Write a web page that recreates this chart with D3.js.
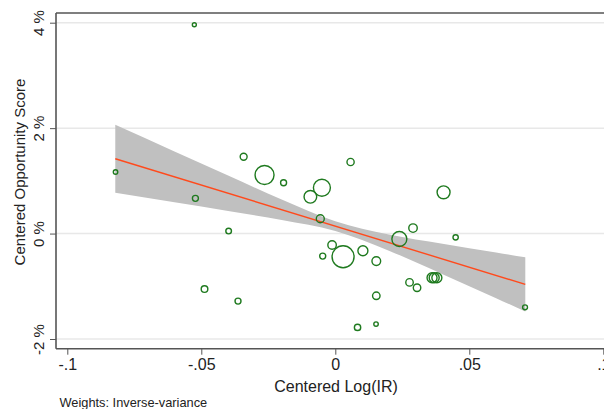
<!DOCTYPE html>
<html>
<head>
<meta charset="utf-8">
<script src="https://cdn.jsdelivr.net/npm/d3@7"></script>
<style>
  html, body { margin: 0; padding: 0; background: #fff; }
  svg { display: block; font-family: "Liberation Sans", Arial, sans-serif; }
</style>
</head>
<body>
<svg id="chart" width="604" height="409"></svg>
<script>
// ---- data ----
const pointX = [-0.0526, -0.0820, -0.0342, -0.0264, -0.0193, -0.0050, -0.0093, -0.0522, -0.0398, -0.0488,
                -0.0363, -0.0056, -0.0012, -0.0047, 0.0029, 0.0103, 0.0153, 0.0057, 0.0404, 0.0290,
                0.0449, 0.0239, 0.0361, 0.0369, 0.0379, 0.0277, 0.0305, 0.0153, 0.0708, 0.0083, 0.0152];
const pointY = [3.962, 1.167, 1.457, 1.110, 0.964, 0.869, 0.698, 0.668, 0.047, -1.053,
                -1.281, 0.281, -0.218, -0.427, -0.440, -0.326, -0.522, 1.357, 0.782, 0.104,
                -0.072, -0.104, -0.839, -0.839, -0.839, -0.926, -1.028, -1.180, -1.400, -1.780, -1.717];
const pointW = [4, 5, 12, 90, 9, 72, 40, 9, 8, 11,
                9, 16, 18, 9, 121, 25, 19, 13, 42, 18,
                7, 56, 25, 25, 25, 14, 14, 14, 6, 10, 5];
const fitX = [-0.0821, 0.0709];
const fitY = [1.42, -0.964];
const bandX  = [-0.0821, -0.06, -0.04, -0.02, 0.0, 0.02, 0.04, 0.06, 0.0709];
const bandHi = [2.065, 1.558, 1.100, 0.648, 0.234, -0.018, -0.194, -0.361, -0.451];
const bandLo = [0.775, 0.594, 0.428, 0.256, 0.048, -0.324, -0.770, -1.227, -1.477];
const xTicks = [-0.1, -0.05, 0, 0.05, 0.1];
const xTickLabels = ["-.1", "-.05", "0", ".05", ".1"];
const yTicks = [-2, 0, 2, 4];
const yTickLabels = ["-2 %", "0 %", "2 %", "4 %"];

// ---- layout ----
const svg = d3.select("#chart");
const pLeft = 56, pTop = 13, pBottom = 348.7, pRight = 620;
const x = d3.scaleLinear().domain([-0.1, 0.1]).range([67.3, 603.3]);
const y = d3.scaleLinear().domain([-2, 4]).range([339, 22.7]);
const r = d3.scaleSqrt().domain([0, 121]).range([0, 11]);

// gridlines
svg.append("g").selectAll("line").data(yTicks).join("line")
  .attr("x1", pLeft).attr("x2", pRight)
  .attr("y1", d => y(d)).attr("y2", d => y(d))
  .attr("stroke", "#e8e8e8").attr("stroke-width", 1.5);

// CI band
const band = bandX.map((d, i) => ({x: d, lo: bandLo[i], hi: bandHi[i]}));
svg.append("path").datum(band)
  .attr("d", d3.area().x(d => x(d.x)).y0(d => y(d.lo)).y1(d => y(d.hi)).curve(d3.curveMonotoneX))
  .attr("fill", "#c0c0c0");

// fit line
const fit = fitX.map((d, i) => ({x: d, y: fitY[i]}));
svg.append("path").datum(fit)
  .attr("d", d3.line().x(d => x(d.x)).y(d => y(d.y)))
  .attr("fill", "none").attr("stroke", "#ff4a1c").attr("stroke-width", 1.4);

// points
const pts = pointX.map((d, i) => ({x: d, y: pointY[i], w: pointW[i]}));
svg.append("g").selectAll("circle").data(pts).join("circle")
  .attr("cx", d => x(d.x)).attr("cy", d => y(d.y)).attr("r", d => r(d.w))
  .attr("fill", "none").attr("stroke", "#1f7a1f").attr("stroke-width", 1.4);

// frame: top border, left axis, bottom axis
svg.append("line").attr("x1", pLeft).attr("x2", pRight).attr("y1", pTop).attr("y2", pTop)
  .attr("stroke", "#555").attr("stroke-width", 1.6);

const xAxis = d3.axisBottom(x).tickValues(xTicks).tickFormat((d, i) => xTickLabels[i])
  .tickSize(6).tickSizeOuter(0);
const gx = svg.append("g").attr("transform", `translate(0,${pBottom})`).call(xAxis);
gx.select(".domain").remove();
gx.append("line").attr("x1", pLeft).attr("x2", pRight).attr("stroke", "#555").attr("stroke-width", 1.6);
gx.selectAll(".tick line").attr("stroke", "#555");
gx.selectAll(".tick text").attr("font-size", 16).attr("fill", "#222")
  .attr("font-family", "Liberation Sans, Arial, sans-serif").attr("dy", null).attr("y", 21);

const yAxis = d3.axisLeft(y).tickValues(yTicks).tickFormat((d, i) => yTickLabels[i])
  .tickSize(6).tickSizeOuter(0);
const gy = svg.append("g").attr("transform", `translate(${pLeft},0)`).call(yAxis);
gy.select(".domain").remove();
gy.append("line").attr("y1", pTop).attr("y2", pBottom).attr("stroke", "#555").attr("stroke-width", 1.6);
gy.selectAll(".tick line").attr("stroke", "#555");
gy.selectAll(".tick text")
  .attr("font-size", 15).attr("fill", "#222")
  .attr("font-family", "Liberation Sans, Arial, sans-serif")
  .attr("x", null).attr("dy", null).attr("text-anchor", "middle")
  .attr("transform", "translate(-12.5,0) rotate(-90)");

// titles
svg.append("text").attr("x", 336).attr("y", 391.5).attr("text-anchor", "middle")
  .attr("font-size", 16).attr("fill", "#222").text("Centered Log(IR)");
svg.append("text").attr("transform", "translate(25,172) rotate(-90)").attr("text-anchor", "middle")
  .attr("font-size", 15).attr("fill", "#222").text("Centered Opportunity Score");
svg.append("text").attr("x", 59.5).attr("y", 407).attr("font-size", 12.8).attr("fill", "#222")
  .text("Weights: Inverse-variance");
</script>
</body>
</html>
